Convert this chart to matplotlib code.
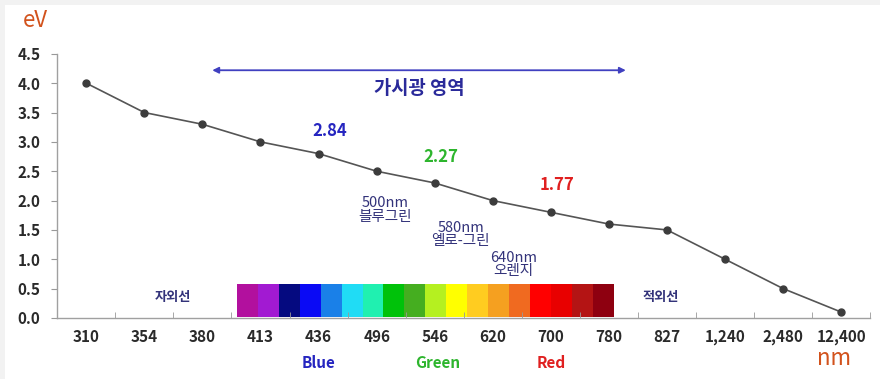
import matplotlib
matplotlib.use("Agg")
import matplotlib.pyplot as plt
from matplotlib.patches import Rectangle

plt.rcParams['font.family'] = ['Noto Sans CJK KR', 'DejaVu Sans']

wavelengths = ["310", "354", "380", "413", "436", "496", "546", "620", "700", "780",
               "827", "1,240", "2,480", "12,400"]
energy_ev = [4.0, 3.5, 3.3, 3.0, 2.8, 2.5, 2.3, 2.0, 1.8, 1.6, 1.5, 1.0, 0.5, 0.1]
y_ticks = [0.0, 0.5, 1.0, 1.5, 2.0, 2.5, 3.0, 3.5, 4.0, 4.5]
spectrum_colors = ["#b2109e", "#a21ad2", "#050a80", "#0a0af5", "#1a80e8", "#20dcf5",
                   "#20f0b0", "#00c20a", "#45ae20", "#b5f020", "#ffff00", "#ffcc20",
                   "#f5a020", "#f06a20", "#ff0000", "#e80000", "#b41414", "#8e0010"]
highlight_labels = ["2.84", "2.27", "1.77"]
highlight_colors = ["#2525c0", "#2db52d", "#e02020"]
color_names = ["Blue", "Green", "Red"]

fig = plt.figure(figsize=(8.8, 3.79), dpi=100)
fig.patch.set_facecolor("#f2f2f2")
fig.add_artist(Rectangle((5 / 880, 0), 1, 1 - 5 / 379, transform=fig.transFigure,
                         facecolor="white", edgecolor="none", zorder=0))
ax = fig.add_axes([0.065, 0.161, 0.924, 0.697])
ax.set_facecolor("none")
x = list(range(len(wavelengths)))

# spectrum bar
bar_start, bar_end = 2.59, 9.09
w = (bar_end - bar_start) / len(spectrum_colors)
for i, c in enumerate(spectrum_colors):
    ax.add_patch(Rectangle((bar_start + i * w, 0.02), w, 0.56, facecolor=c,
                           edgecolor="none", zorder=1))

ax.plot(x, energy_ev, color="#555555", lw=1.2, marker="o", markersize=5,
        markerfacecolor="#3c3c3c", markeredgecolor="#3c3c3c", zorder=3)

ax.set_xlim(-0.5, 13.5)
ax.set_ylim(0, 4.5)
ax.set_yticks(y_ticks)
ax.set_yticklabels([f"{v:.1f}" for v in y_ticks], fontsize=11, color="#2a2a2a",
                   fontweight="bold")
ax.set_xticks(x)
ax.set_xticklabels(wavelengths, fontsize=11, color="#2a2a2a", fontweight="bold")
ax.tick_params(axis="x", length=0, pad=8)
ax.set_xticks([i + 0.5 for i in range(len(wavelengths))], minor=True)
ax.tick_params(axis="x", which="minor", direction="in", length=4, color="#999999")
ax.tick_params(axis="y", length=4, color="#999999", pad=8)
for s in ["top", "right"]:
    ax.spines[s].set_visible(False)
for s in ["left", "bottom"]:
    ax.spines[s].set_color("#a0a0a0")
    ax.spines[s].set_linewidth(1.0)

# visible range arrow
ax.annotate("", xy=(2.17, 4.22), xytext=(9.29, 4.22),
            arrowprops=dict(arrowstyle="<|-|>", color="#4040c0", lw=1.3,
                            mutation_scale=9, shrinkA=0, shrinkB=0))
ax.text(5.73, 3.91, "가시광 영역", fontsize=13.5, fontweight="bold",
        color="#2a2a9a", ha="center", va="center")

# highlight values
hx = [4.2, 6.1, 8.1]
hy = [3.18, 2.74, 2.26]
for xx, yy, t, c in zip(hx, hy, highlight_labels, highlight_colors):
    ax.text(xx, yy, t, fontsize=12, fontweight="bold", color=c, ha="center", va="center")

lab_col = "#33337a"
lab_kw = dict(fontsize=10.5, color=lab_col, ha="center", va="center", linespacing=0.95)
ax.text(5.15, 1.84, "500nm\n블루그린", **lab_kw)
ax.text(6.45, 1.42, "580nm\n옐로-그린", **lab_kw)
ax.text(7.35, 0.91, "640nm\n오렌지", **lab_kw)
ax.text(1.5, 0.36, "자외선", fontweight="bold", **dict(lab_kw, fontsize=9.5))
ax.text(9.9, 0.36, "적외선", fontweight="bold", **dict(lab_kw, fontsize=9.5))

# color names under axis
for xx, t, c in zip([4.0, 6.05, 8.0], color_names, highlight_colors):
    ax.text(xx, -0.76, t, fontsize=11, fontweight="bold", color=c, ha="center",
            va="center")

fig.text(0.04, 0.945, "eV", fontsize=16, color="#d2521c", ha="center", va="center")
fig.text(0.948, 0.055, "nm", fontsize=16, color="#d2521c", ha="center", va="center")

fig.savefig("out.png", dpi=100, facecolor=fig.get_facecolor())
